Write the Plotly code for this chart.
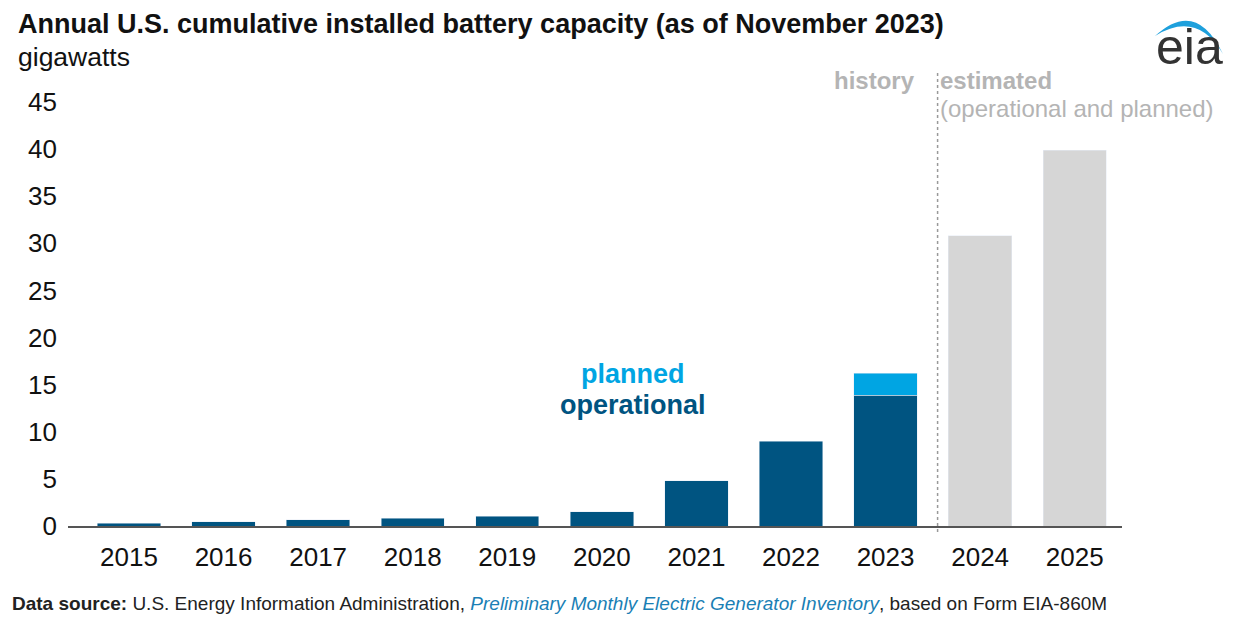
import plotly.graph_objects as go

# data (gigawatts)
years = ["2015", "2016", "2017", "2018", "2019", "2020", "2021", "2022", "2023", "2024", "2025"]
hist_years = years[:9]
operational = [0.3, 0.47, 0.64, 0.82, 1.03, 1.5, 4.8, 9.0, 13.9]
planned_years = ["2023"]
planned = [2.3]
est_years = ["2024", "2025"]
estimated = [30.8, 39.9]
y_ticks = [0, 5, 10, 15, 20, 25, 30, 35, 40, 45]

DARK = "#005481"
LIGHT = "#00a5e3"
GRAY_BAR = "#d6d6d6"
GRAY_TXT = "#b4b4b4"
FONT = "Liberation Sans, Arial, sans-serif"

# page sits 8px in from the window corner (body margin)
OFF = 8
W, H = 1237, 625
L, R, T, B = 60, 123, 94, 107


def px(x):
    return (x - OFF - L) / (W - L - R)


def py(y):
    return (H - B - (y - OFF)) / (H - T - B)


fig = go.Figure()
fig.add_trace(go.Bar(x=hist_years, y=operational, marker_color=DARK, name="operational"))
fig.add_trace(go.Bar(x=planned_years, y=planned, marker_color=LIGHT, name="planned"))
fig.add_trace(go.Bar(x=est_years, y=estimated, marker_color=GRAY_BAR, name="estimated"))

fig.update_layout(
    width=W, height=H,
    margin=dict(l=L, r=R, t=T, b=B),
    barmode="stack", bargap=0.33,
    showlegend=False,
    plot_bgcolor="white", paper_bgcolor="white",
    font=dict(family=FONT, color="#111111", size=26),
)
fig.update_xaxes(
    type="category", categoryorder="array", categoryarray=years,
    range=[-0.645, 10.5], showline=True, linecolor="#555555", linewidth=2,
    ticks="", showgrid=False, ticklabelstandoff=7, tickfont=dict(size=26, color="#111111"),
)
fig.update_yaxes(
    range=[0, 45], tickvals=y_ticks, showgrid=False, zeroline=False,
    showline=False, ticks="", ticklabelstandoff=10, tickfont=dict(size=26, color="#111111"),
)

# history / estimated divider
fig.add_shape(type="line", xref="x", yref="paper", x0=8.55, x1=8.55,
              y0=py(532), y1=py(70), line=dict(color="#999999", width=1.5, dash="dot"))

ann = [
    dict(x=px(16), y=py(24), text="<b>Annual U.S. cumulative installed battery capacity (as of November 2023)</b>",
         xanchor="left", font=dict(size=27, color="#111111")),
    dict(x=px(16), y=py(57), text="gigawatts", xanchor="left", font=dict(size=26.5, color="#111111")),
    dict(x=px(917), y=py(80), text="<b>history</b>", xanchor="right", font=dict(size=24, color=GRAY_TXT)),
    dict(x=px(938), y=py(80), text="<b>estimated</b>", xanchor="left", font=dict(size=24, color=GRAY_TXT)),
    dict(x=px(938), y=py(108), text="(operational and planned)", xanchor="left", font=dict(size=24, color=GRAY_TXT)),
    dict(x=px(633), y=py(374), text="<b>planned</b>", xanchor="center", font=dict(size=27, color=LIGHT)),
    dict(x=px(633), y=py(405), text="<b>operational</b>", xanchor="center", font=dict(size=27, color=DARK)),
    dict(x=px(10), y=py(603),
         text="<b>Data source:</b> U.S. Energy Information Administration, "
              "<i><span style='color:#1a7fb5'>Preliminary Monthly Electric Generator Inventory</span></i>"
              ", based on Form EIA-860M",
         xanchor="left", font=dict(size=19, color="#222222")),
    dict(x=px(1189), y=py(47), text="eia", xanchor="center", font=dict(size=50, color="#333333")),
]
for a in ann:
    fig.add_annotation(xref="paper", yref="paper", showarrow=False, yanchor="middle", **a)

# eia logo arc
arc = (f"M {px(1155)},{py(36)} Q {px(1196)},{py(-2)} {px(1223)},{py(54)} "
       f"Q {px(1197)},{py(10)} {px(1155)},{py(36)} Z")
fig.add_shape(type="path", xref="paper", yref="paper", path=arc,
              fillcolor="#1ea0dc", line=dict(width=0))

fig.write_html("out.html")
